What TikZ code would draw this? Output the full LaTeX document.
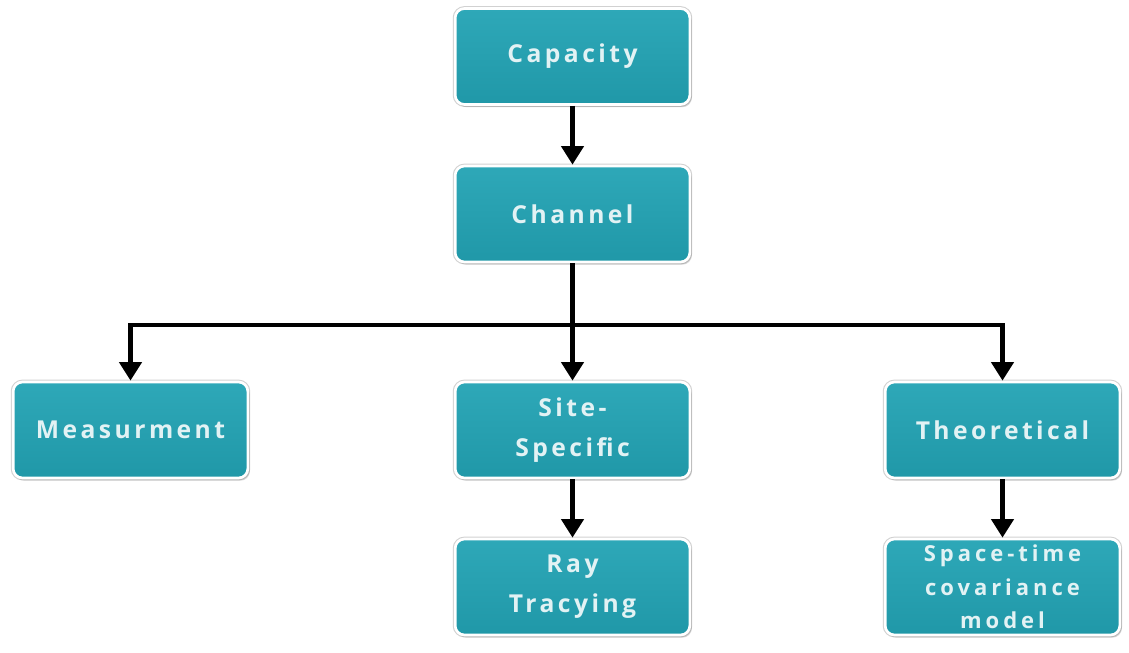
\documentclass[tikz,border=0pt]{standalone}
\usepackage{fontspec}
\newfontfamily\boxfont[LetterSpace=14]{Open Sans}
\newfontfamily\boxsmallfont[LetterSpace=18]{Open Sans}
\usetikzlibrary{arrows.meta,shadows}
\definecolor{boxtop}{RGB}{46,168,184}
\definecolor{boxbot}{RGB}{32,152,168}
\definecolor{boxtext}{RGB}{226,242,244}
\tikzset{
  box/.style={rounded corners=7pt, minimum width=176pt, minimum height=72pt,
    top color=boxtop, bottom color=boxbot, draw=white, line width=2pt,
    preaction={draw=black!18, line width=3.6pt},
    drop shadow={shadow xshift=1.5pt, shadow yshift=-2pt, opacity=0.25, fill=black!60},
    align=center, text=boxtext, inner sep=0pt, font=\boxfont\bfseries\fontsize{18.5}{30}\selectfont},
  small/.style={font=\boxsmallfont\bfseries\fontsize{16.5}{25}\selectfont},
  conn/.style={line width=3.5pt, black},
  arr/.style={conn, -{Triangle[length=14pt, width=16.5pt]}}
}
\begin{document}
\begin{tikzpicture}[x=0.75pt,y=-0.75pt]
\useasboundingbox (0,0) rectangle (1129,653);
\node[box] (cap) at (572.5,56.5) {Capacity};
\node[box] (chan) at (572.5,214) {Channel};
\node[box] (meas) at (130.5,430) {Measurment};
\node[box] (site) at (572.5,430) {Site-\\Specific};
\node[box] (theo) at (1002.5,430) {Theoretical};
\node[box] (ray) at (572.5,587) {Ray\\Tracying};
\node[box, small] (stc) at (1002.5,587) {Space-time\\covariance\\model};
\coordinate (split) at (572.5,325);
\draw[arr] (cap) -- (chan);
\draw[conn] (chan.south) -- (split);
\draw[arr] (split) -| (meas.north);
\draw[arr] (split) -| (theo.north);
\draw[arr] (split) -- (site.north);
\draw[arr] (site) -- (ray);
\draw[arr] (theo) -- (stc);
\end{tikzpicture}
\end{document}
